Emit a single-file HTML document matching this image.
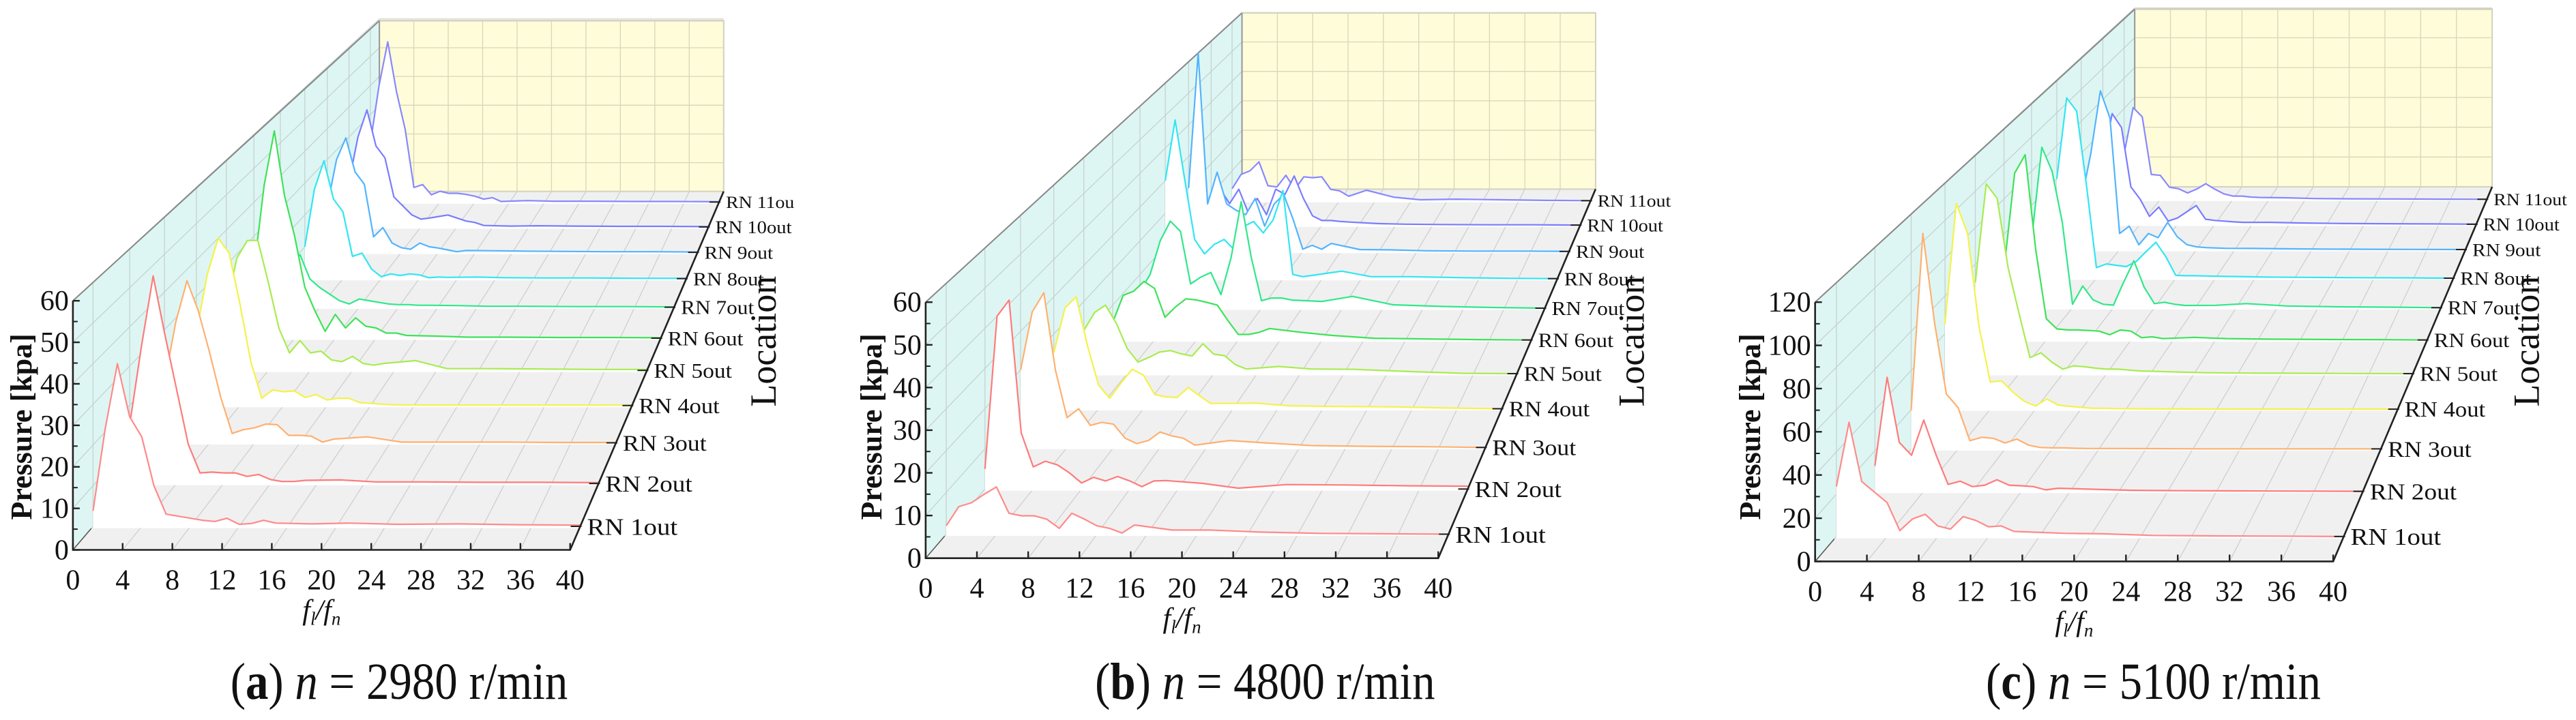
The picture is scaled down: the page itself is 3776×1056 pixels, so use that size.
<!DOCTYPE html>
<html><head><meta charset="utf-8">
<style>
html,body{margin:0;padding:0;background:#fff;}
svg{display:block;}
text{font-family:"Liberation Serif",serif;fill:#111;}
</style></head>
<body>
<svg id="fig" xmlns="http://www.w3.org/2000/svg" width="3776" height="1056" viewBox="0 0 3776 1056"></svg>
<script>
// ---- data ----
const fGrid = [0,1,2,3,4,5,6,7,8,9,10,11,12,13,14,15,18,21,25,30,35,40];
const locationLabels = ["RN 1out","RN 2out","RN 3out","RN 4out","RN 5out","RN 6out","RN 7out","RN 8out","RN 9out","RN 10out","RN 11out"];
const xTicks = [0,4,8,12,16,20,24,28,32,36,40];
const yTicksA = [0,10,20,30,40,50,60];
const yTicksB = [0,10,20,30,40,50,60];
const yTicksC = [0,20,40,60,80,100,120];
const valuesA = [
[3.8,24,40,27,22,10,3,2.5,2,1.5,1.2,2,0.5,0.7,1.5,0.8,0.6,0.8,0.5,0.6,0.4,0.3],
[15,35,53,38,24,10,2.7,2.9,2.7,2.7,1.8,2.3,1,0.5,0.5,0.8,0.9,0.4,0.4,0.3,0.3,0.2],
[16,32,43,35,24,12,2.5,3.5,4,5,4.8,2,2,1.8,0.2,1,1.6,0.2,0.2,0.2,0.1,0.1],
[20,36,46,42,28,12,2,4.3,3.8,4,2.2,3,1.5,2,2,0.8,0.2,0.1,0.1,0.1,0.1,0.1],
[18,32,37,37,25,12,5,8.5,5,5.5,3,2.5,4,2,1.5,2,2.8,0.5,0.5,0.4,0.3,0.3],
[20,45,61,42,30,15,8,2,7,3,6,3.5,3,1.5,1.5,0.8,0.6,0.3,0.3,0.2,0.2,0.1],
[5,12,16,8.6,6,4,2,1,2.5,2,1.5,1,0.8,0.8,0.6,0.6,0.5,0.3,0.3,0.2,0.2,0.1],
[10,28,37,25,21,7,8,3,0.6,1.5,1,1.5,1.2,0.3,0.5,0.4,0.5,0.3,0.2,0.2,0.1,0.1],
[15,30,37,26,22,5,8,3,1.5,1,3,1.8,1.4,0.8,0.2,0.6,0.5,0.4,0.3,0.2,0.2,0.1],
[15,30,39,27,23,10,7,4,2.6,3,3.5,4,3,2,1.5,0.5,0.3,0.4,0.3,0.2,0.2,0.1],
[20,40,55,38,25,5,6,2.5,3.7,3,3,2.6,2,1,1.5,0.2,0.5,0.3,0.3,0.2,0.2,0.1]];
const valuesB = [
[2,6.6,7.5,9.5,11.3,5,4.4,4.4,3.6,1.4,5,3.6,2,1.4,0.3,2.2,1,1,0.5,0.2,0.1,0],
[5,43,47,14,5.5,6.9,6,4,1.5,2.9,2,3.1,2,0.6,2,2.1,1.4,0.2,1.1,1,0.8,0.7],
[20,35,40,20,7.7,10,5.7,6.5,6,2.4,1,1.8,4,3,2.4,0.6,1.8,1.2,0.5,0.3,0.2,0],
[15,27,30,17,6.3,2.8,6.9,10.6,9,3.8,3.2,3,5.7,3.5,1.4,1.4,1.5,0.8,0.6,0.5,0.2,0],
[12,17,19,14,7,3.2,4.5,6,6.4,5.5,4.9,8.3,5.4,5,2.5,1.3,2,1.3,1.2,0.6,0.1,0],
[5,12.8,14,16.8,14.8,6.5,9.5,11.8,11.5,10.8,10,5.6,1.6,1.6,2.2,3.3,2.2,1.3,0.5,0.3,0.1,0],
[5,10,20,25.8,22.8,7.2,9.2,10.6,4,15,31.6,15,2.2,3,3,2.4,2,3.5,1,0.5,0.2,0],
[30,48.6,30,12,7.6,10.5,12,9,16,17.5,14,18,27,1.3,0.6,1,2.3,0.6,0.6,0.3,0.1,0],
[20,62.6,15,25,15,13,11.6,16.7,8,15,18,10,0.7,1.9,0.7,2.5,0.6,0.5,0.2,0.1,0.1,0],
[5,11.7,7,11.7,4.2,8.7,3.4,11.7,10,16,8.7,3,1.5,1.5,1.2,1,0.5,0.3,0.2,0.1,0.1,0],
[4,8.8,10,13,5,4.6,8.5,3.8,8,7.7,8,3.8,3.3,1.5,2.5,3.5,1.2,0.3,0.5,0.3,0.1,0]];
const valuesC = [
[23.6,54,26,21,16,2.8,8.3,10.5,5,3.5,9.4,7.6,4.6,5,2.4,2.2,1.5,1.3,0.5,0.3,0.2,0],
[12.5,56,24,17.7,35,18,3.4,5,2.3,3,5.7,3,2.7,2.3,0.7,1.5,1,0.5,0.3,0.2,0.1,0],
[19.6,110,64,28,21,4.2,5.9,5.4,3,5,1.9,0.7,0.5,0.5,0.3,0.2,0.2,0.1,0,0,0,0],
[45,109,93,44,14.4,15,9,4.2,1.7,5.4,2.2,1.5,1,0.5,0.5,0.3,0.2,0.1,0,0,0,0],
[50,104,96,58,33,8.8,11.4,6.3,2.5,4.3,3.8,3,2.5,2.5,2,1.5,1,0.5,0.3,0.2,0.1,0],
[40,94.5,105,51,12,6.3,5.7,5.7,5.4,5,3,5.7,5,1.3,1.8,0.8,1.5,0.8,0.5,0.3,0.2,0],
[40,94,80,50,2,12.7,4.6,2,1.5,15,27.5,12,2.4,3.2,2,1.3,1.4,2.4,1,0.5,0.3,0],
[60,109,101,56,6.4,8.6,7.8,7,10,16,21.7,13,1.7,1.5,1.5,1.3,1,0.7,0.5,0.3,0.2,0],
[30,60,99,82,10,14.6,3,10,7.4,17,8,3.1,1.7,1.2,1,0.8,0.7,0.5,0.3,0.2,0.1,0],
[40,71,62,24,16,5,11,2,4,8,12,3.2,2.4,2,1.5,1.2,1.2,0.8,0.5,0.3,0.2,0],
[30,60.6,54.5,16.4,15.8,8,7,4.2,6.7,10.3,6.7,3.6,2.1,2.1,1.5,1.2,1,0.5,0.3,0.2,0.1,0]];
const seriesColors = ["#ff8a8a","#ff7b7b","#ffb070","#f4f24a","#a8ec50","#3fe25a","#2fe88a","#30e6f2","#52b4ff","#7a7cff","#8888ff"];

// ---- drawing ----
const NS = "http://www.w3.org/2000/svg";
const svg = document.getElementById("fig");
const SX = 0.8036, SY = 0.6766;
function mk(tag, attrs, parent){
  const e = document.createElementNS(NS, tag);
  for (const k in attrs) e.setAttribute(k, attrs[k]);
  parent.appendChild(e);
  return e;
}
function drawPanel(cfg){
  const g = document.createElementNS(NS, "g");
  
  
  svg.appendChild(g);
  const X = zx => cfg.off + zx*SX;
  const Y = zy => zy*SY;
  const ox=cfg.ox, oy=cfg.oy, xr=cfg.xr, yTop=cfg.yTop, bL=cfg.bL, bR=cfg.bR, bT=cfg.bT, bB=cfg.bB;
  const ymax = cfg.yTicks[cfg.yTicks.length-1];
  const kBack = (bR-bL)/(xr-ox);
  function proj(p){
    const k = 1 + p*(kBack-1);
    return {x0: ox + p*(bL-ox), yb: oy + p*(bB-oy), ux: (xr-ox)/40*k, uy: (oy-yTop)/ymax*k, k: k, xe: xr + p*(bR-xr)};
  }
  const pts = a => a.map(q => X(q[0]).toFixed(1)+","+Y(q[1]).toFixed(1)).join(" ");
  const floor = mk("polygon",{points:pts([[ox,oy],[xr,oy],[bR,bB],[bL,bB]]),fill:"#f0f0f0"},g);
  
  
  const lw = mk("polygon",{points:pts([[ox,oy],[bL,bB],[bL,bT],[ox,yTop]]),fill:"#def6f3"},g);
  
  
  const bw = mk("polygon",{points:pts([[bL,bB],[bR,bB],[bR,bT],[bL,bT]]),fill:"#fffcd9",stroke:"#c8c8c8","stroke-width":2},g);
  
  
  const back = proj(1);
  xTicks.forEach(f => {
    const fx = ox + f*(xr-ox)/40, bx = bL + f*back.ux;
    const l = mk("line",{x1:X(fx),y1:Y(oy),x2:X(bx),y2:Y(bB),stroke:"#cfcfcf","stroke-width":1.3},g);
    
    
    const l2 = mk("line",{x1:X(bx),y1:Y(bB),x2:X(bx),y2:Y(bT),stroke:"#d8d6b8","stroke-width":1.3},g);
    
    
  });
  cfg.yTicks.forEach(v => {
    const fy = oy - v*(oy-yTop)/ymax, by = bB - v*back.uy;
    const l = mk("line",{x1:X(ox),y1:Y(fy),x2:X(bL),y2:Y(by),stroke:"#c4d2d0","stroke-width":1.3},g);
    
    
    const l2 = mk("line",{x1:X(bL),y1:Y(by),x2:X(bR),y2:Y(by),stroke:"#d8d6b8","stroke-width":1.3},g);
    
    
  });
  cfg.bases.forEach(yb => {
    const p = (oy-yb)/(oy-bB), fr = proj(p);
    const top = yTop + p*(bT-yTop);
    const l = mk("line",{x1:X(fr.x0),y1:Y(yb),x2:X(fr.x0),y2:Y(top),stroke:"#c4d2d0","stroke-width":1.3},g);
    
    
  });
  const te = mk("line",{x1:X(ox),y1:Y(yTop),x2:X(bL),y2:Y(bT),stroke:"#888","stroke-width":2},g);
  
  
  const be = mk("line",{x1:X(bL),y1:Y(bB),x2:X(bL),y2:Y(bT),stroke:"#999","stroke-width":2},g);
  
  
  for (let i = cfg.values.length-1; i >= 0; i--){
    const yb = cfg.bases[i];
    const p = (oy-yb)/(oy-bB), fr = proj(p);
    const vals = cfg.values[i];
    const line = fGrid.map((f,j) => [fr.x0 + f*fr.ux, yb - vals[j]*fr.uy]);
    const bl = mk("line",{x1:X(fr.x0),y1:Y(yb)+1,x2:X(fr.xe),y2:Y(yb)+1,stroke:"#ffffff","stroke-width":3},g);
    
    
    const fill = mk("polygon",{points:pts([[fr.x0,yb]].concat(line).concat([[line[line.length-1][0],yb]])),fill:"#ffffff"},g);
    
    
    const pl = mk("polyline",{points:pts(line),fill:"none",stroke:seriesColors[i],"stroke-width":2.2,"stroke-linejoin":"round"},g);
    
    
    const tk = mk("line",{x1:X(fr.xe)-14,y1:Y(yb),x2:X(fr.xe)+2,y2:Y(yb),stroke:"#222","stroke-width":2},g);
    
    
    const lbl = i===10 && cfg.clip11 ? "RN 11ou" : locationLabels[i];
    const fs = 36*fr.k;
    const t = mk("text",{"font-size":fs.toFixed(1),transform:"translate("+(X(fr.xe)+10).toFixed(1)+","+(Y(yb)+fs*0.35).toFixed(1)+") scale(1.1,1)"},g);
    t.textContent = lbl;
    
    
  }
  const ax = mk("path",{d:"M"+X(ox)+","+Y(yTop)+" L"+X(ox)+","+Y(oy)+" L"+X(xr)+","+Y(oy)+" L"+X(bR)+","+Y(bB),fill:"none",stroke:"#222","stroke-width":2.6},g);
  
  
  const d0 = mk("line",{x1:X(ox),y1:Y(oy),x2:X(ox)+ (bL-ox)*SX*0.06,y2:Y(oy)+(bB-oy)*SY*0.06,stroke:"#555","stroke-width":1.5},g);
  
  
  xTicks.forEach(f => {
    const fx = X(ox + f*(xr-ox)/40);
    const tl = mk("line",{x1:fx,y1:Y(oy),x2:fx,y2:Y(oy)-10,stroke:"#222","stroke-width":2.4},g);
    
    
    const t = mk("text",{x:fx,y:Y(oy)+58,"font-size":42,"text-anchor":"middle"},g);
    t.textContent = f;
    
    
  });
  cfg.yTicks.forEach((v,j) => {
    const fy = Y(oy - v*(oy-yTop)/ymax);
    const tl = mk("line",{x1:X(ox),y1:fy,x2:X(ox)+10,y2:fy,stroke:"#222","stroke-width":2.4},g);
    
    
    if (j < cfg.yTicks.length-1){
      const my = Y(oy - (v+cfg.yTicks[1]/2)*(oy-yTop)/ymax);
      const ml = mk("line",{x1:X(ox),y1:my,x2:X(ox)+7,y2:my,stroke:"#222","stroke-width":2},g);
      
      
    }
    const t = mk("text",{x:X(ox)-6,y:fy+14,"font-size":42,"text-anchor":"end"},g);
    t.textContent = v;
    
    
  });
  const yt = mk("text",{transform:"translate("+(X(cfg.ylx)+14)+","+Y(925)+") rotate(-90)","font-size":44,"font-weight":"bold","text-anchor":"middle"},g);
  yt.textContent = "Pressure [kpa]";
  
  
  const xt = mk("text",{x:X((ox+xr)/2),y:Y(oy)+102,"font-size":42,"font-style":"italic","text-anchor":"middle"},g);
  xt.innerHTML = 'f<tspan font-size="27" dy="8">l</tspan><tspan dy="-8">/f</tspan><tspan font-size="27" dy="8">n</tspan>';
  
  
  const lt = mk("text",{transform:"translate("+(X(xr+355)+16)+","+Y(740)+") rotate(-90)","font-size":54,"text-anchor":"middle"},g);
  lt.textContent = "Location";
  
  
  const cap = mk("text",{transform:"translate("+X(cfg.capX)+",1025) scale(0.88,1)","font-size":76,"text-anchor":"middle"},g);
  cap.innerHTML = '(<tspan font-weight="bold">'+cfg.letter+'</tspan>) <tspan font-style="italic">n</tspan> = '+cfg.speed+' r/min';
  
  
}
drawPanel({name:"panel-a",off:0,ox:133,oy:1192,xr:1040,yTop:652,bL:692,bR:1320,bT:45,bB:415,
  bases:[1141,1048,960,879,803,733,666,604,547,492,438],values:valuesA,yTicks:yTicksA,ylx:40,capX:728,letter:"a",speed:"2980",clip11:true});
drawPanel({name:"panel-b",off:1250,ox:133,oy:1210,xr:1068,yTop:655,bL:710,bR:1355,bT:28,bB:410,
  bases:[1158,1060,970,886,810,737,668,604,545,488,435],values:valuesB,yTicks:yTicksB,ylx:35,capX:752,letter:"b",speed:"4800"});
drawPanel({name:"panel-c",off:2516,ox:180,oy:1217,xr:1125,yTop:655,bL:763,bR:1415,bT:20,bB:405,
  bases:[1163,1065,973,887,810,737,667,603,541,486,432],values:valuesC,yTicks:yTicksC,ylx:62,capX:797,letter:"c",speed:"5100"});
</script>
</body></html>
